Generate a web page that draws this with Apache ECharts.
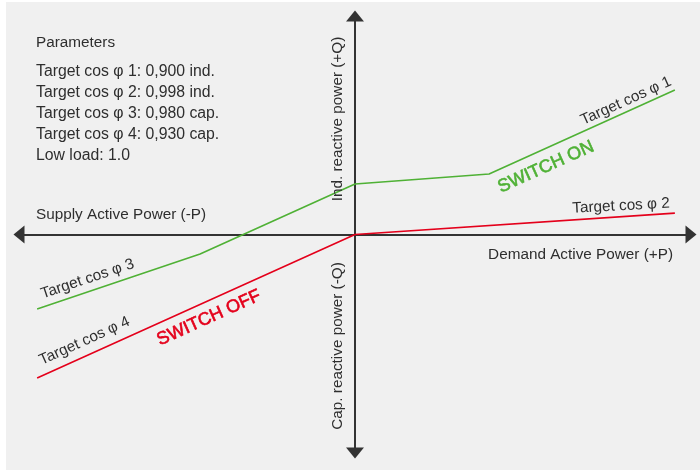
<!DOCTYPE html>
<html><head><meta charset="utf-8">
<script src="https://cdn.jsdelivr.net/npm/echarts@6/dist/echarts.min.js"></script>
<style>html,body{margin:0;padding:0;background:#fff}#c{width:700px;height:470px}</style>
</head><body><div id="c"></div>
<script>
// Green characteristic: Target cos φ 3 (left) -> Target cos φ 1 (right)
const switchOnLine = [[-9.46, -3.41], [-4.61, -0.89], [0, 2.31], [3.99, 2.77], [9.52, 6.61]];
// Red characteristic: Target cos φ 4 (left) -> Target cos φ 2 (right)
const switchOffLine = [[-9.46, -6.57], [0, 0], [9.52, 0.98]];
const parameterTitle = 'Parameters';
const parameterLines = [
  'Target cos φ 1: 0,900 ind.',
  'Target cos φ 2: 0,998 ind.',
  'Target cos φ 3: 0,980 cap.',
  'Target cos φ 4: 0,930 cap.',
  'Low load: 1.0'
];
const axisNames = {
  left: 'Supply Active Power (-P)',
  right: 'Demand Active Power (+P)',
  up: 'Ind. reactive power (+Q)',
  down: 'Cap. reactive power (-Q)'
};
const curveLabels = ['Target cos φ 1', 'Target cos φ 2', 'Target cos φ 3', 'Target cos φ 4'];
const zoneLabels = ['SWITCH ON', 'SWITCH OFF'];

const FONT = '"Liberation Sans", Arial, sans-serif';
const TXT = '#2e2e2e';
const GREEN = '#4fb135';
const RED = '#e4001b';
const deg = d => d * Math.PI / 180;

function txt(text, x, y, opts) {
  opts = opts || {};
  const st = {
    text: text, x: 0, y: 0,
    fill: opts.color || TXT,
    font: (opts.weight || 'normal') + ' ' + (opts.size || 15.3) + 'px ' + FONT,
    align: opts.align || 'left', verticalAlign: 'middle',
    textAlign: opts.align || 'left', textVerticalAlign: 'middle'
  };
  if (opts.stroke) { st.stroke = opts.color; st.lineWidth = opts.stroke; }
  return { type: 'text', x: x, y: y, rotation: opts.rot ? deg(opts.rot) : 0, z: 100, style: st };
}

const graphics = [
  { type: 'rect', shape: { x: 0, y: 0, width: 6, height: 470 }, style: { fill: '#fff' }, z: 0 },
  { type: 'rect', shape: { x: 0, y: 0, width: 700, height: 2 }, style: { fill: '#fff' }, z: 0 },
  txt(parameterTitle, 36, 43)
];
const pyStart = 72, pyStep = 20.8;
parameterLines.forEach((t, i) => graphics.push(txt(t, 36, pyStart + i * pyStep, { size: 15.8 })));
graphics.push(txt(axisNames.left, 36, 215));
graphics.push(txt(axisNames.right, 673, 255, { align: 'right' }));
graphics.push(txt(axisNames.up, 338, 119, { align: 'center', rot: 90 }));
graphics.push(txt(axisNames.down, 338, 346, { align: 'center', rot: 90 }));
graphics.push(txt(curveLabels[0], 626, 101, { align: 'center', rot: 24.3 }));
graphics.push(txt(curveLabels[1], 621, 206, { align: 'center', rot: 3 }));
graphics.push(txt(curveLabels[2], 87.5, 279, { align: 'center', rot: 18.6 }));
graphics.push(txt(curveLabels[3], 84.5, 341, { align: 'center', rot: 24.3 }));
graphics.push(txt(zoneLabels[0], 546, 167, { align: 'center', rot: 24.3, color: GREEN, size: 18, stroke: 0.6 }));
graphics.push(txt(zoneLabels[1], 209, 318, { align: 'center', rot: 24.3, color: RED, size: 18, stroke: 0.6 }));

const axisCommon = {
  type: 'value', min: -10, max: 10,
  axisLine: { onZero: true, lineStyle: { color: '#333', width: 2 }, symbol: ['triangle', 'triangle'], symbolSize: [18, 11] },
  axisTick: { show: false }, axisLabel: { show: false }, splitLine: { show: false }
};

const chart = echarts.init(document.getElementById('c'));
chart.setOption({
  backgroundColor: '#f0f0f0',
  animation: false,
  grid: { left: 19, width: 672, top: 16, height: 437 },
  xAxis: axisCommon,
  yAxis: axisCommon,
  series: [
    { type: 'line', data: switchOnLine, symbol: 'none', lineStyle: { color: GREEN, width: 1.6 }, z: 3 },
    { type: 'line', data: switchOffLine, symbol: 'none', lineStyle: { color: RED, width: 1.6 }, z: 3 }
  ],
  graphic: graphics
});
</script></body></html>
